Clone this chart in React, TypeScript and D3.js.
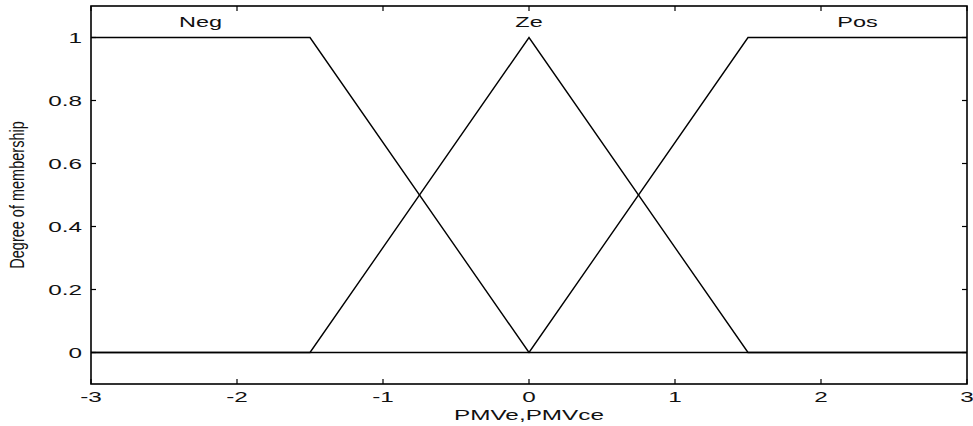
import React from "react";
import * as d3 from "d3";

// Universe of discourse and membership function breakpoints
const xDomain: [number, number] = [-3, 3];
const yDomain: [number, number] = [-0.1, 1.1];
const xTicks = [-3, -2, -1, 0, 1, 2, 3];
const yTicks = [0, 0.2, 0.4, 0.6, 0.8, 1];

const setNames = ["Neg", "Ze", "Pos"];
// [x, membership] vertices for each fuzzy set
const negPoints: [number, number][] = [[-3, 1], [-1.5, 1], [0, 0], [3, 0]];
const zePoints: [number, number][] = [[-3, 0], [-1.5, 0], [0, 1], [1.5, 0], [3, 0]];
const posPoints: [number, number][] = [[-3, 0], [0, 0], [1.5, 1], [3, 1]];
// Horizontal anchor of each set name
const labelX = [-2.25, 0, 2.25];

const xLabel = "PMVe,PMVce";
const yLabel = "Degree of membership";

const W = 973;
const H = 426;
const M = { left: 91, right: 6, top: 6, bottom: 42 };
const SX = 1.62; // wide glyph stretch used for all text

export default function App() {
  const x = d3.scaleLinear().domain(xDomain).range([M.left, W - M.right]);
  const y = d3.scaleLinear().domain(yDomain).range([H - M.bottom, M.top]);
  const line = d3
    .line<[number, number]>()
    .x((d) => x(d[0]))
    .y((d) => y(d[1]));

  const x0 = x(xDomain[0]);
  const x1 = x(xDomain[1]);
  const y0 = y(yDomain[0]);
  const y1 = y(yDomain[1]);
  const tick = 5;
  const font = "'Liberation Sans', Arial, sans-serif";

  const stretched = (
    tx: number,
    ty: number,
    text: string,
    anchor: "start" | "middle" | "end",
    size: number,
    key?: string | number
  ) => (
    <text
      key={key}
      transform={`translate(${tx},${ty}) scale(${SX},1)`}
      textAnchor={anchor}
      fontSize={size}
      fontFamily={font}
      fill="#111"
    >
      {text}
    </text>
  );

  return (
    <svg
      width={W}
      height={H}
      style={{ position: "absolute", left: 0, top: 0, background: "#fff" }}
    >
      {/* membership functions */}
      {[negPoints, zePoints, posPoints].map((pts, i) => (
        <path key={i} d={line(pts) || ""} fill="none" stroke="#000" strokeWidth={1.4} />
      ))}

      {/* set names */}
      {setNames.map((n, i) => stretched(x(labelX[i]), y(1.05) + 5, n, "middle", 14.5, n))}

      {/* axes box */}
      <rect x={x0} y={y1} width={x1 - x0} height={y0 - y1} fill="none" stroke="#000" strokeWidth={1.6} />

      {/* x ticks, bottom and top, pointing inward */}
      {xTicks.map((t) => (
        <g key={`xt${t}`}>
          <line x1={x(t)} x2={x(t)} y1={y0} y2={y0 - tick} stroke="#000" strokeWidth={1.2} />
          <line x1={x(t)} x2={x(t)} y1={y1} y2={y1 + tick} stroke="#000" strokeWidth={1.2} />
          {stretched(x(t), y0 + 18, String(t), "middle", 15)}
        </g>
      ))}

      {/* y ticks, left and right, pointing inward */}
      {yTicks.map((t) => (
        <g key={`yt${t}`}>
          <line x1={x0} x2={x0 + tick} y1={y(t)} y2={y(t)} stroke="#000" strokeWidth={1.2} />
          <line x1={x1} x2={x1 - tick} y1={y(t)} y2={y(t)} stroke="#000" strokeWidth={1.2} />
          {stretched(x0 - 9, y(t) + 5.5, String(t), "end", 15)}
        </g>
      ))}

      {/* axis titles */}
      {stretched((x0 + x1) / 2, H - 6, xLabel, "middle", 15)}
      <text
        transform={`translate(24,${(y0 + y1) / 2}) scale(1.35,1) rotate(-90)`}
        textAnchor="middle"
        fontSize={14.5}
        fontFamily={font}
        fill="#111"
      >
        {yLabel}
      </text>
    </svg>
  );
}
